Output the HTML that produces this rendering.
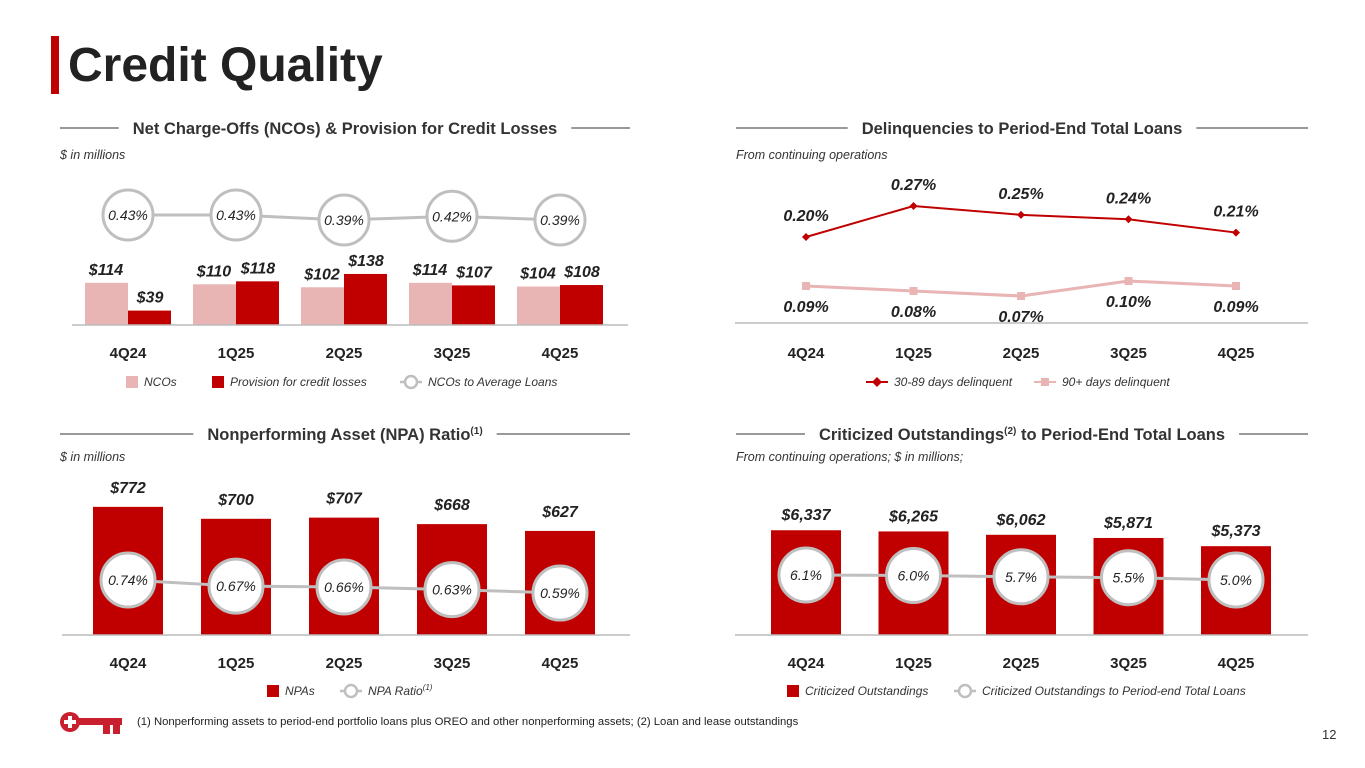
<!DOCTYPE html>
<html><head><meta charset="utf-8">
<style>
body{margin:0;width:1365px;height:768px;background:#fff;overflow:hidden;font-family:"Liberation Sans",Arial,sans-serif;}
svg{position:absolute;left:0;top:0}
</style></head>
<body>
<svg id="s" width="1365" height="768" xmlns="http://www.w3.org/2000/svg">
<rect x="51" y="36" width="8" height="58" fill="#c00000"/>
<text x="68" y="81" font-size="48" font-weight="bold" fill="#222">Credit Quality</text>
<g id="g"></g>
<g fill="#c8202f">
<circle cx="70" cy="722" r="10"/><rect x="76" y="718" width="46" height="7"/><rect x="103" y="722" width="7" height="12"/><rect x="113" y="722" width="7" height="12"/>
<rect x="68" y="716" width="4" height="12" fill="#fff"/><rect x="64" y="720" width="12" height="4" fill="#fff"/>
</g>
<text x="137" y="725" font-size="11.3" fill="#222">(1) Nonperforming assets to period-end portfolio loans plus OREO and other nonperforming assets; (2) Loan and lease outstandings</text>
<text x="1322" y="739" font-size="13" fill="#333">12</text>
</svg>
<script>
const cats=["4Q24","1Q25","2Q25","3Q25","4Q25"];
const ncos=[114,110,102,114,104];
const provision=[39,118,138,107,108];
const ncoRatio=[0.43,0.43,0.39,0.42,0.39];
const delq3089=[0.20,0.27,0.25,0.24,0.21];
const delq90=[0.09,0.08,0.07,0.10,0.09];
const npas=[772,700,707,668,627];
const npaRatio=[0.74,0.67,0.66,0.63,0.59];
const crit=[6337,6265,6062,5871,5373];
const critRatio=[6.1,6.0,5.7,5.5,5.0];

const NS="http://www.w3.org/2000/svg";const G=document.getElementById('g');
function el(t,a,txt){const e=document.createElementNS(NS,t);for(const k in a)e.setAttribute(k,a[k]);if(txt!==undefined)e.textContent=txt;G.appendChild(e);return e;}
const RED="#c00000",PINK="#e8b4b4",GRAY="#bfbfbf";
const xL=i=>128+i*108, xR=i=>806+i*107.5;

function section(x1,x2,cx,y,label,sup){
 let e=el('line',{x1:x1,x2:x2,y1:y,y2:y,stroke:'#333','stroke-width':1});
 
 e=el('text',{x:cx,y:y+6,'font-size':16.5,'font-weight':'bold','text-anchor':'middle',fill:'#333'});
 
 e.textContent=label;
 if(sup){const t=document.createElementNS(NS,'tspan');t.setAttribute('font-size',10);t.setAttribute('dy',-6);t.textContent=sup;e.appendChild(t);
  if(sup==="(2)"){const t2=document.createElementNS(NS,'tspan');t2.setAttribute('dy',6);t2.textContent=" to Period-End Total Loans";e.appendChild(t2);}}
 const w=e.getComputedTextLength();
 const bg=document.createElementNS(NS,'rect');bg.setAttribute('x',cx-w/2-14);bg.setAttribute('y',y-10);bg.setAttribute('width',w+28);bg.setAttribute('height',20);bg.setAttribute('fill','#fff');
 G.insertBefore(bg,e);
}
function note(x,y,t){const e=el('text',{x:x,y:y,'font-size':12.5,'font-style':'italic',fill:'#333'},t);}
function catLabels(xf,y){cats.forEach((c,i)=>{const e=el('text',{x:xf(i),y:y,'font-size':15,'font-weight':'bold','text-anchor':'middle',fill:'#222'},c);});}
function axis(x1,x2,y){const e=el('line',{x1:x1,x2:x2,y1:y,y2:y,stroke:'#bbb','stroke-width':1.5});}
function vlabel(x,y,t,size){const e=el('text',{x:x,y:y,'font-size':size||16,'font-weight':'bold','font-style':'italic','text-anchor':'middle',fill:'#222'},t);}
function ratioLine(xf,vals,yf,r,fmt,name){
 let d=vals.map((v,i)=>(i?'L':'M')+xf(i)+','+yf(v)).join(' ');
 let e=el('path',{d:d,stroke:GRAY,'stroke-width':3,fill:'none'});
 vals.forEach((v,i)=>{e=el('circle',{cx:xf(i),cy:yf(v),r:r,fill:'#fff',stroke:GRAY,'stroke-width':3});
  e=el('text',{x:xf(i),y:yf(v)+5,'font-size':14,'font-style':'italic','text-anchor':'middle',fill:'#222'},fmt(v));});
}
function legendBox(x,y,c,t){let e=el('rect',{x:x,y:y-10,width:12,height:12,fill:c});
 e=el('text',{x:x+18,y:y,'font-size':12,'font-style':'italic',fill:'#333'},t);}
function legendCirc(x,y,t){let e=el('line',{x1:x,x2:x+22,y1:y-4,y2:y-4,stroke:GRAY,'stroke-width':2.5});
 e=el('circle',{cx:x+11,cy:y-4,r:6,fill:'#fff',stroke:GRAY,'stroke-width':2.5});
 e=el('text',{x:x+28,y:y,'font-size':12,'font-style':'italic',fill:'#333'},t);return e;}
function legendLine(x,y,c,t,sq){let e=el('line',{x1:x,x2:x+22,y1:y-4,y2:y-4,stroke:c,'stroke-width':2});
 e=sq?el('rect',{x:x+7,y:y-8,width:8,height:8,fill:c}):el('path',{d:`M${x+11},${y-9}L${x+16},${y-4}L${x+11},${y+1}L${x+6},${y-4}Z`,fill:c});
 e=el('text',{x:x+28,y:y,'font-size':12,'font-style':'italic',fill:'#333'},t);}

// Chart 1
section(60,630,345,128,"Net Charge-Offs (NCOs) & Provision for Credit Losses");
note(60,159,"$ in millions");
const b1=325,s1=0.37;
cats.forEach((c,i)=>{
 let h=ncos[i]*s1;let e=el('rect',{x:xL(i)-43,y:b1-h,width:43,height:h,fill:PINK});
 vlabel(xL(i)-22,b1-h-8,'$'+ncos[i]);
 h=provision[i]*s1;e=el('rect',{x:xL(i),y:b1-h,width:43,height:h,fill:RED});
 vlabel(xL(i)+22,b1-h-8,'$'+provision[i]);
});
axis(72,628,b1);catLabels(xL,358);
ratioLine(xL,ncoRatio,v=>215+(0.43-v)*125,25,v=>v.toFixed(2)+'%','nco-ratio');
legendBox(126,386,PINK,"NCOs");legendBox(212,386,RED,"Provision for credit losses");legendCirc(400,386,"NCOs to Average Loans");

// Chart 2
section(736,1308,1022,128,"Delinquencies to Period-End Total Loans");
note(736,159,"From continuing operations");
axis(735,1308,323);catLabels(xR,358);
const y30=v=>237-(v-0.20)*443, y90=v=>286-(v-0.09)*500;
let e=el('path',{d:delq90.map((v,i)=>(i?'L':'M')+xR(i)+','+y90(v)).join(' '),stroke:PINK,'stroke-width':3,fill:'none'});
delq90.forEach((v,i)=>{e=el('rect',{x:xR(i)-4,y:y90(v)-4,width:8,height:8,fill:PINK});vlabel(xR(i),y90(v)+26,v.toFixed(2)+'%');});
e=el('path',{d:delq3089.map((v,i)=>(i?'L':'M')+xR(i)+','+y30(v)).join(' '),stroke:RED,'stroke-width':2,fill:'none'});
delq3089.forEach((v,i)=>{const x=xR(i),y=y30(v);e=el('path',{d:`M${x},${y-4}L${x+4},${y}L${x},${y+4}L${x-4},${y}Z`,fill:RED});vlabel(x,y-16,v.toFixed(2)+'%');});
legendLine(866,386,RED,"30-89 days delinquent",false);legendLine(1034,386,PINK,"90+ days delinquent",true);

// Chart 3
section(60,630,345,434,"Nonperforming Asset (NPA) Ratio","(1)");
note(60,461,"$ in millions");
const b3=635,s3=0.166;
cats.forEach((c,i)=>{const h=npas[i]*s3;let e=el('rect',{x:xL(i)-35,y:b3-h,width:70,height:h,fill:RED});vlabel(xL(i),b3-h-14,'$'+npas[i]);});
axis(62,630,b3);catLabels(xL,668);
ratioLine(xL,npaRatio,v=>580+(0.74-v)*87,27,v=>v.toFixed(2)+'%','npa-ratio');
legendBox(267,695,RED,"NPAs");
{const t=legendCirc(340,695,"NPA Ratio");const sp=document.createElementNS(NS,'tspan');sp.setAttribute('font-size',8);sp.setAttribute('dy',-5);sp.textContent="(1)";t.appendChild(sp);}

// Chart 4
section(736,1308,1022,434,"Criticized Outstandings","(2)");
note(736,461,"From continuing operations; $ in millions;");
const s4=0.01653;
cats.forEach((c,i)=>{const h=crit[i]*s4;let e=el('rect',{x:xR(i)-35,y:b3-h,width:70,height:h,fill:RED});vlabel(xR(i),b3-h-10,'$'+crit[i].toLocaleString('en-US'));});
axis(735,1308,b3);catLabels(xR,668);
ratioLine(xR,critRatio,v=>575+(6.1-v)*4.5,27,v=>v.toFixed(1)+'%','criticized-ratio');
legendBox(787,695,RED,"Criticized Outstandings");legendCirc(954,695,"Criticized Outstandings to Period-end Total Loans");
</script>
</body></html>
